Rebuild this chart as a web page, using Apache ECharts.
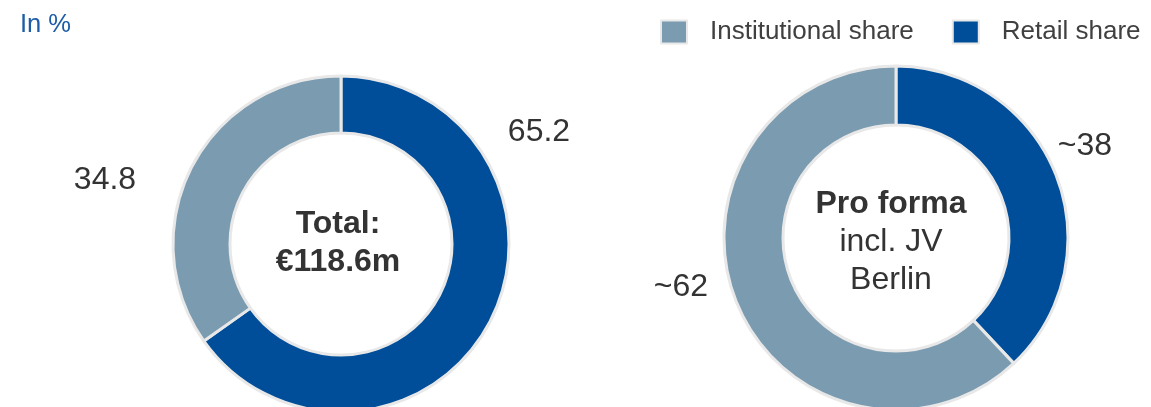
<!DOCTYPE html>
<html>
<head>
<meta charset="utf-8">
<script src="https://cdn.jsdelivr.net/npm/echarts@6/dist/echarts.min.js"></script>
<style>
  html, body { margin: 0; padding: 0; background: #ffffff; }
  #chart { width: 1151px; height: 407px; }
</style>
</head>
<body>
<div id="chart"></div>
<script>
// Share categories (legend order)
const categories = ['Institutional share', 'Retail share'];
// Left ring: reported split, in %
const reportedValues = [34.8, 65.2];
// Right ring: pro forma split incl. JV Berlin, in % (approximate)
const proFormaValues = [62, 38];

const colors = { 'Institutional share': '#7b9bb0', 'Retail share': '#004e99' };
const FONT = '"Liberation Sans", Arial, sans-serif';

function ringData(values) {
  // Retail first so it starts at 12 o'clock and runs clockwise
  return [
    { name: categories[1], value: values[1], itemStyle: { color: colors[categories[1]] } },
    { name: categories[0], value: values[0], itemStyle: { color: colors[categories[0]] } }
  ];
}

const chart = echarts.init(document.getElementById('chart'), null, { renderer: 'canvas' });

function ring(center, radius, values, fmt, labelPos) {
  return {
    type: 'pie',
    center: center,
    radius: radius,
    startAngle: 90,
    clockwise: true,
    silent: true,
    avoidLabelOverlap: false,
    itemStyle: { borderColor: '#e8e8e8', borderWidth: 3 },
    label: {
      show: true,
      position: 'outside',
      formatter: fmt,
      fontFamily: FONT,
      fontSize: 32,
      color: '#333333'
    },
    labelLine: { show: false },
    labelLayout: function (p) {
      const pos = labelPos[p.dataIndex];
      return { x: pos[0], y: pos[1], align: 'center', verticalAlign: 'middle' };
    },
    data: ringData(values)
  };
}

function centerLine(x, y, text, bold) {
  return {
    type: 'text', x: x, y: y,
    style: {
      text: text,
      font: (bold ? 'bold ' : '') + '32px ' + FONT,
      fill: '#333333', align: 'center', verticalAlign: 'middle'
    }
  };
}

chart.setOption({
  animation: false,
  legend: {
    data: categories,
    left: 660,
    top: 19,
    padding: 0,
    icon: 'rect',
    itemWidth: 26,
    itemHeight: 23,
    itemGap: 38,
    selectedMode: false,
    textStyle: { fontFamily: FONT, fontSize: 26, color: '#404040', padding: [0, 0, 0, 18] }
  },
  graphic: [
    { type: 'text', x: 20, y: 25, style: { text: 'In %', font: '25.5px ' + FONT, fill: '#1d5ca6', verticalAlign: 'middle' } },
    centerLine(338, 224, 'Total:', true),
    centerLine(338, 262, '€118.6m', true),
    centerLine(891, 204, 'Pro forma', true),
    centerLine(891, 242, 'incl. JV', false),
    centerLine(891, 280, 'Berlin', false)
  ],
  series: [
    ring([341, 244], [111, 168], reportedValues, '{c}', [[539, 132], [105, 180]]),
    ring([896, 238], [113, 172], proFormaValues, '~{c}', [[1085, 146], [681, 287]])
  ]
});
</script>
</body>
</html>
